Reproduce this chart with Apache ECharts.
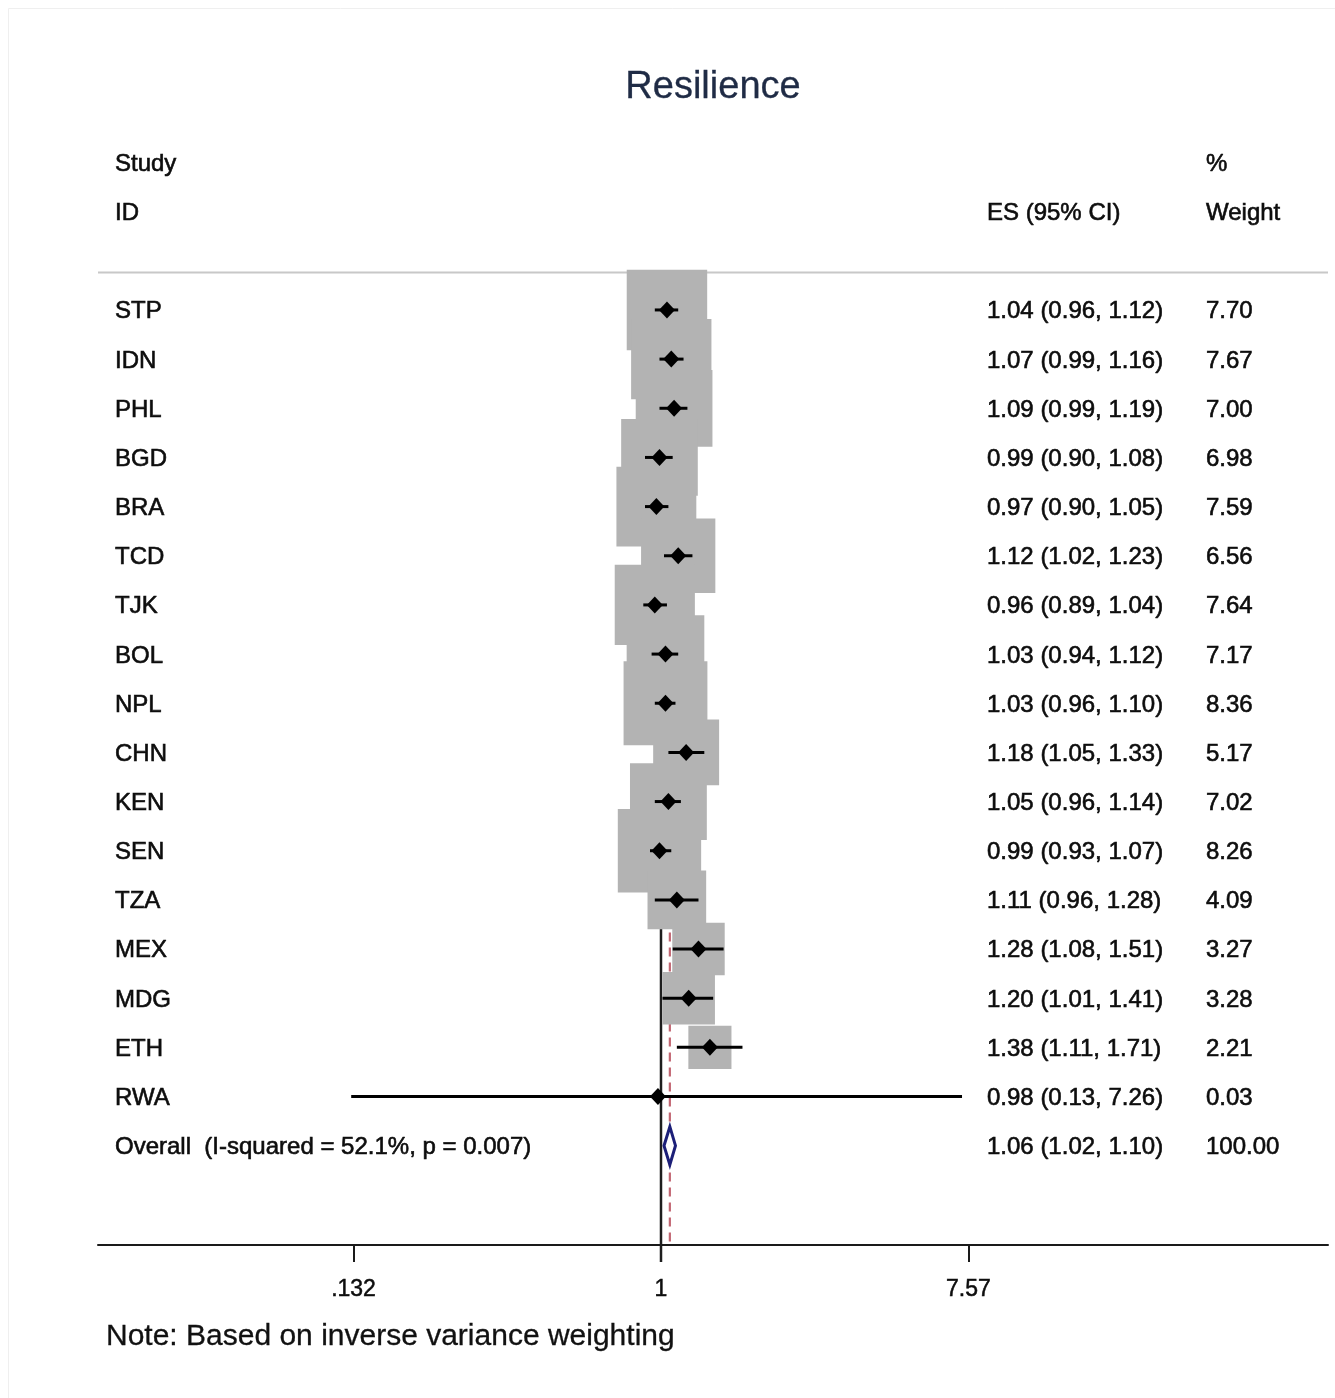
<!DOCTYPE html>
<html><head><meta charset="utf-8">
<script src="https://cdn.jsdelivr.net/npm/echarts@6/dist/echarts.min.js"></script>
<style>html,body{margin:0;padding:0;background:#fff}#c{width:1335px;height:1398px}</style>
</head><body><div id="c"></div>
<script>
// ---------- data ----------
const studies = ['STP','IDN','PHL','BGD','BRA','TCD','TJK','BOL','NPL','CHN','KEN','SEN','TZA','MEX','MDG','ETH','RWA'];
const es      = [1.04,1.07,1.09,0.99,0.97,1.12,0.96,1.03,1.03,1.18,1.05,0.99,1.11,1.28,1.20,1.38,0.98];
const ciLow   = [0.96,0.99,0.99,0.90,0.90,1.02,0.89,0.94,0.96,1.05,0.96,0.93,0.96,1.08,1.01,1.11,0.13];
const ciHigh  = [1.12,1.16,1.19,1.08,1.05,1.23,1.04,1.12,1.10,1.33,1.14,1.07,1.28,1.51,1.41,1.71,7.26];
const weights = [7.70,7.67,7.00,6.98,7.59,6.56,7.64,7.17,8.36,5.17,7.02,8.26,4.09,3.27,3.28,2.21,0.03];
const overallLabel = 'Overall  (I-squared = 52.1%, p = 0.007)';
const overallES = [1.06];
const overallLow = [1.02];
const overallHigh = [1.10];
const overallWeight = [100.00];
const tickValues = [0.132, 1, 7.57];
const tickLabels = ['.132', '1', '7.57'];
const headerStudy = ['Study', 'ID'];
const headerES = ['', 'ES (95% CI)'];
const headerWeight = ['%', 'Weight'];
const titleText = 'Resilience';
const noteText = 'Note: Based on inverse variance weighting';

// ---------- layout ----------
const ln = Math.log;
const FONT = '"Liberation Sans", Arial, Helvetica, sans-serif';
const XMIN = -3.7076, XMAX = 4.3925;
const YMIN = -4, YMAX = 19.02;
const TOPLINE_ROW = -0.76;
const COL_LABEL = 115, COL_ES = 987, COL_W = 1206;
const TEXT_DY = 1.8;
const BOX_K = 29.0;
const TXT = '#0d0d0d';
const nS = studies.length;
const OVR = nS;

const textItems = [];
headerStudy.forEach((t, k) => textItems.push({row: -3 + k, x: COL_LABEL, text: t}));
headerES.forEach((t, k) => { if (t) textItems.push({row: -3 + k, x: COL_ES, text: t}); });
headerWeight.forEach((t, k) => textItems.push({row: -3 + k, x: COL_W, text: t}));
studies.forEach((s, i) => {
  textItems.push({row: i, x: COL_LABEL, text: s});
  textItems.push({row: i, x: COL_ES, text: es[i].toFixed(2) + ' (' + ciLow[i].toFixed(2) + ', ' + ciHigh[i].toFixed(2) + ')'});
  textItems.push({row: i, x: COL_W, text: weights[i].toFixed(2)});
});
textItems.push({row: OVR, x: COL_LABEL, text: overallLabel});
textItems.push({row: OVR, x: COL_ES, text: overallES[0].toFixed(2) + ' (' + overallLow[0].toFixed(2) + ', ' + overallHigh[0].toFixed(2) + ')'});
textItems.push({row: OVR, x: COL_W, text: overallWeight[0].toFixed(2)});

const tickLn = tickValues.map(v => ln(v));

const chart = echarts.init(document.getElementById('c'), null, {renderer: 'canvas'});
const option = {
  animation: false,
  backgroundColor: '#ffffff',
  graphic: [
    {type: 'rect', silent: true, z: -1, shape: {x: 8.5, y: 8.5, width: 1340, height: 1400},
     style: {fill: 'none', stroke: '#efefef', lineWidth: 1}},
    {type: 'text', silent: true, x: 713, y: 87.5,
     style: {text: titleText, font: '38px ' + FONT, fill: '#1f2b45', verticalAlign: 'middle', align: 'center',
             stroke: '#1f2b45', lineWidth: 0.3}},
    {type: 'text', silent: true, x: 106, y: 1337,
     style: {text: noteText, font: '30px ' + FONT, fill: '#111', verticalAlign: 'middle', align: 'left',
             stroke: '#111', lineWidth: 0.3}}
  ],
  grid: {left: 98, right: 7, top: 113.3, height: 1131.7},
  xAxis: {
    type: 'value', min: XMIN, max: XMAX,
    axisLine: {show: true, onZero: false, lineStyle: {color: '#1a1a1a', width: 2}},
    axisTick: {show: true, customValues: tickLn, length: 17, lineStyle: {color: '#1a1a1a', width: 2}},
    axisLabel: {
      show: true, customValues: tickLn, margin: 33,
      fontFamily: FONT, fontSize: 23, color: TXT, textBorderColor: TXT, textBorderWidth: 0.5,
      formatter: function (v) {
        let best = 0, bd = Infinity;
        tickLn.forEach((t, k) => { const d = Math.abs(t - v); if (d < bd) { bd = d; best = k; } });
        return tickLabels[best];
      }
    },
    splitLine: {show: false}
  },
  yAxis: {type: 'value', inverse: true, min: YMIN, max: YMAX, show: false},
  series: [
    { // reference lines
      type: 'custom', silent: true, z: 1, clip: false,
      data: [[0, 0]],
      renderItem: function (params, api) {
        const a = api.coord([XMIN, TOPLINE_ROW]);
        const b = api.coord([XMAX, TOPLINE_ROW]);
        const n0 = api.coord([0, TOPLINE_ROW]);
        const n1 = api.coord([0, YMAX]);
        const r0 = api.coord([ln(overallES[0]), TOPLINE_ROW]);
        const r1 = api.coord([ln(overallES[0]), YMAX]);
        return {type: 'group', children: [
          {type: 'line', shape: {x1: a[0], y1: a[1], x2: b[0], y2: b[1]}, style: {stroke: '#c8c8c8', lineWidth: 2}},
          {type: 'line', shape: {x1: n0[0], y1: n0[1], x2: n1[0], y2: n1[1] + 17}, style: {stroke: '#1e1e1e', lineWidth: 2.5}},
          {type: 'line', shape: {x1: r0[0], y1: r0[1], x2: r1[0], y2: r1[1]}, style: {stroke: '#c26672', lineWidth: 2.2, lineDash: [9, 6]}}
        ]};
      }
    },
    { // weight boxes
      type: 'custom', silent: true, z: 2,
      encode: {x: 0, y: 1},
      data: studies.map((s, i) => [ln(es[i]), i, weights[i]]),
      renderItem: function (params, api) {
        const c = api.coord([api.value(0), api.value(1)]);
        const s = BOX_K * Math.sqrt(api.value(2));
        return {type: 'rect', shape: {x: c[0] - s / 2, y: c[1] - s / 2, width: s, height: s}, style: {fill: '#b3b3b3'}};
      }
    },
    { // confidence intervals
      type: 'custom', silent: true, z: 3, clip: false,
      encode: {x: [0, 1], y: 2},
      data: studies.map((s, i) => [ln(ciLow[i]), ln(ciHigh[i]), i]),
      renderItem: function (params, api) {
        const p0 = api.coord([api.value(0), api.value(2)]);
        const p1 = api.coord([api.value(1), api.value(2)]);
        return {type: 'line', shape: {x1: p0[0], y1: p0[1], x2: p1[0], y2: p1[1]}, style: {stroke: '#000', lineWidth: 3}};
      }
    },
    { // point estimates
      type: 'scatter', silent: true, z: 4,
      symbol: 'diamond', symbolSize: [16, 17],
      itemStyle: {color: '#000', opacity: 1},
      data: studies.map((s, i) => [ln(es[i]), i])
    },
    { // overall diamond
      type: 'custom', silent: true, z: 5,
      encode: {x: [0, 1, 2], y: 3},
      data: [[ln(overallLow[0]), ln(overallES[0]), ln(overallHigh[0]), OVR]],
      renderItem: function (params, api) {
        const L = api.coord([api.value(0), api.value(3)]);
        const M = api.coord([api.value(1), api.value(3)]);
        const R = api.coord([api.value(2), api.value(3)]);
        const h = 19;
        return {type: 'polygon', shape: {points: [[L[0], L[1]], [M[0], M[1] - h], [R[0], R[1]], [M[0], M[1] + h]]},
                style: {fill: '#ffffff', stroke: '#1c1f78', lineWidth: 3}};
      }
    },
    { // text columns
      type: 'custom', silent: true, z: 6, clip: false,
      encode: {x: 0, y: 1},
      data: textItems.map(t => [0, t.row]),
      renderItem: function (params, api) {
        const t = textItems[params.dataIndex];
        const y = api.coord([0, api.value(1)])[1] + TEXT_DY;
        return {type: 'text', x: t.x, y: y,
                style: {text: t.text, font: '24px ' + FONT, fill: TXT, stroke: TXT, lineWidth: 0.6,
                        align: 'left', verticalAlign: 'middle'}};
      }
    }
  ]
};
chart.setOption(option);
</script>
</body></html>
